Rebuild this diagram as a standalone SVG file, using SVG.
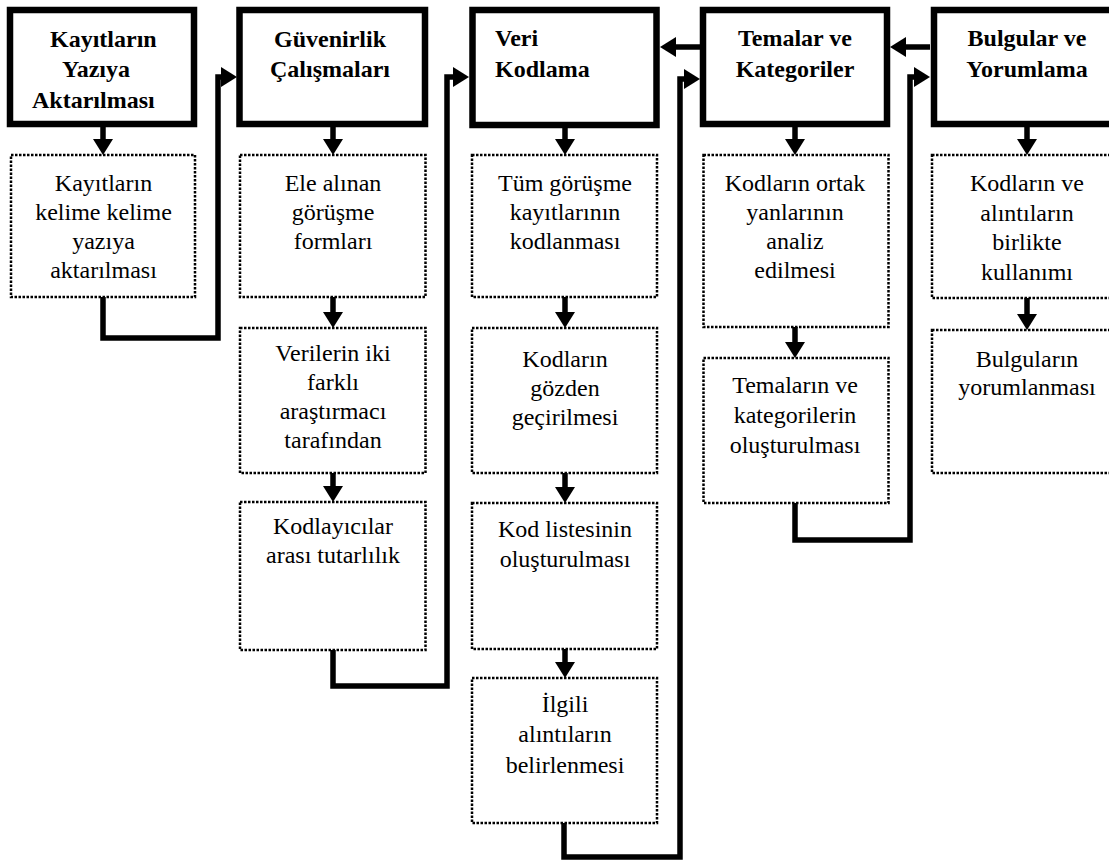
<svg xmlns="http://www.w3.org/2000/svg" width="1109" height="861" viewBox="0 0 1109 861">
<style>
.hd{fill:#fff;stroke:#000;stroke-width:6.5}
.sb{fill:#fff;stroke:#000;stroke-width:2.5;stroke-dasharray:2.5 1.5}
.ht{font-family:"Liberation Serif","Times New Roman",serif;font-size:24px;font-weight:bold;fill:#000}
.st{font-family:"Liberation Serif","Times New Roman",serif;font-size:24px;fill:#000;text-anchor:middle}
.c{fill:none;stroke:#000;stroke-width:5.5;stroke-linejoin:miter;marker-end:url(#ah)}
</style>
<defs>
<marker id="ah" viewBox="0 0 16 20" refX="0" refY="10" markerWidth="16" markerHeight="20" markerUnits="userSpaceOnUse" orient="auto">
<path d="M0,0 L16,10 L0,20 z" fill="#000"/>
</marker>
</defs>
<rect width="1109" height="861" fill="#fff"/>

<g id="connectors">
<path class="c" d="M103,127 V139"/>
<path class="c" d="M333,127 V139"/>
<path class="c" d="M333,297 V312"/>
<path class="c" d="M333,473 V486"/>
<path class="c" d="M565,128 V139"/>
<path class="c" d="M565,297 V312"/>
<path class="c" d="M565,473 V487"/>
<path class="c" d="M565,649 V662"/>
<path class="c" d="M795,127 V139"/>
<path class="c" d="M795,327 V342"/>
<path class="c" d="M1027,127 V139"/>
<path class="c" d="M1027,298 V314"/>
<path class="c" d="M103,297 V338 H218 V77 H221"/>
<path class="c" d="M333,650 V686 H447 V77 H453"/>
<path class="c" d="M564,823 V857 H680 V79 H684"/>
<path class="c" d="M795,503 V540 H910 V77 H914"/>
<path class="c" d="M700,47 H676"/>
<path class="c" d="M930,47 H906"/>
</g>

<g id="n1">
<rect class="hd" x="10" y="10" width="184" height="114"/>
<text class="ht" x="50" y="47">Kayıtların</text>
<text class="ht" x="62" y="77">Yazıya</text>
<text class="ht" x="32" y="108">Aktarılması</text>
</g>
<g id="n1a">
<rect class="sb" x="11" y="155" width="184" height="142"/>
<text class="st" x="103.5" y="191">Kayıtların</text>
<text class="st" x="103.5" y="220">kelime kelime</text>
<text class="st" x="103.5" y="249">yazıya</text>
<text class="st" x="103.5" y="278">aktarılması</text>
</g>

<g id="n2">
<rect class="hd" x="239.5" y="10" width="185.5" height="114"/>
<text class="ht" x="330" y="47" text-anchor="middle">Güvenirlik</text>
<text class="ht" x="330" y="77" text-anchor="middle">Çalışmaları</text>
</g>
<g id="n2a">
<rect class="sb" x="240" y="155" width="185.5" height="142"/>
<text class="st" x="333" y="191">Ele alınan</text>
<text class="st" x="333" y="220">görüşme</text>
<text class="st" x="333" y="249">formları</text>
</g>
<g id="n2b">
<rect class="sb" x="240" y="328" width="185.5" height="145"/>
<text class="st" x="333" y="361">Verilerin iki</text>
<text class="st" x="333" y="390">farklı</text>
<text class="st" x="333" y="419">araştırmacı</text>
<text class="st" x="333" y="448">tarafından</text>
</g>
<g id="n2c">
<rect class="sb" x="240" y="502" width="185.5" height="148"/>
<text class="st" x="333" y="534">Kodlayıcılar</text>
<text class="st" x="333" y="563">arası tutarlılık</text>
</g>

<g id="n3">
<rect class="hd" x="472.5" y="10" width="184" height="115"/>
<text class="ht" x="495" y="46">Veri</text>
<text class="ht" x="495" y="77">Kodlama</text>
</g>
<g id="n3a">
<rect class="sb" x="472" y="155" width="185" height="142"/>
<text class="st" x="565" y="191">Tüm görüşme</text>
<text class="st" x="565" y="220">kayıtlarının</text>
<text class="st" x="565" y="249">kodlanması</text>
</g>
<g id="n3b">
<rect class="sb" x="472" y="328" width="185" height="145"/>
<text class="st" x="565" y="367">Kodların</text>
<text class="st" x="565" y="396">gözden</text>
<text class="st" x="565" y="425">geçirilmesi</text>
</g>
<g id="n3c">
<rect class="sb" x="472" y="503" width="185" height="146"/>
<text class="st" x="565" y="537">Kod listesinin</text>
<text class="st" x="565" y="567">oluşturulması</text>
</g>
<g id="n3d">
<rect class="sb" x="472" y="678" width="185" height="145"/>
<text class="st" x="565" y="712">İlgili</text>
<text class="st" x="565" y="742">alıntıların</text>
<text class="st" x="565" y="773">belirlenmesi</text>
</g>

<g id="n4">
<rect class="hd" x="703" y="10" width="184" height="114"/>
<text class="ht" x="795" y="46" text-anchor="middle">Temalar ve</text>
<text class="ht" x="795" y="77" text-anchor="middle">Kategoriler</text>
</g>
<g id="n4a">
<rect class="sb" x="703.5" y="155" width="185" height="172"/>
<text class="st" x="795" y="191">Kodların ortak</text>
<text class="st" x="795" y="220">yanlarının</text>
<text class="st" x="795" y="249">analiz</text>
<text class="st" x="795" y="278">edilmesi</text>
</g>
<g id="n4b">
<rect class="sb" x="703.5" y="358" width="185" height="145"/>
<text class="st" x="795" y="393">Temaların ve</text>
<text class="st" x="795" y="423">kategorilerin</text>
<text class="st" x="795" y="453">oluşturulması</text>
</g>

<g id="n5">
<rect class="hd" x="934" y="10" width="190" height="114"/>
<text class="ht" x="1027" y="46" text-anchor="middle">Bulgular ve</text>
<text class="ht" x="1027" y="77" text-anchor="middle">Yorumlama</text>
</g>
<g id="n5a">
<rect class="sb" x="932" y="155" width="190" height="143"/>
<text class="st" x="1027" y="191">Kodların ve</text>
<text class="st" x="1027" y="221">alıntıların</text>
<text class="st" x="1027" y="250">birlikte</text>
<text class="st" x="1027" y="280">kullanımı</text>
</g>
<g id="n5b">
<rect class="sb" x="932" y="330" width="190" height="143"/>
<text class="st" x="1027" y="367">Bulguların</text>
<text class="st" x="1027" y="395">yorumlanması</text>
</g>
</svg>
